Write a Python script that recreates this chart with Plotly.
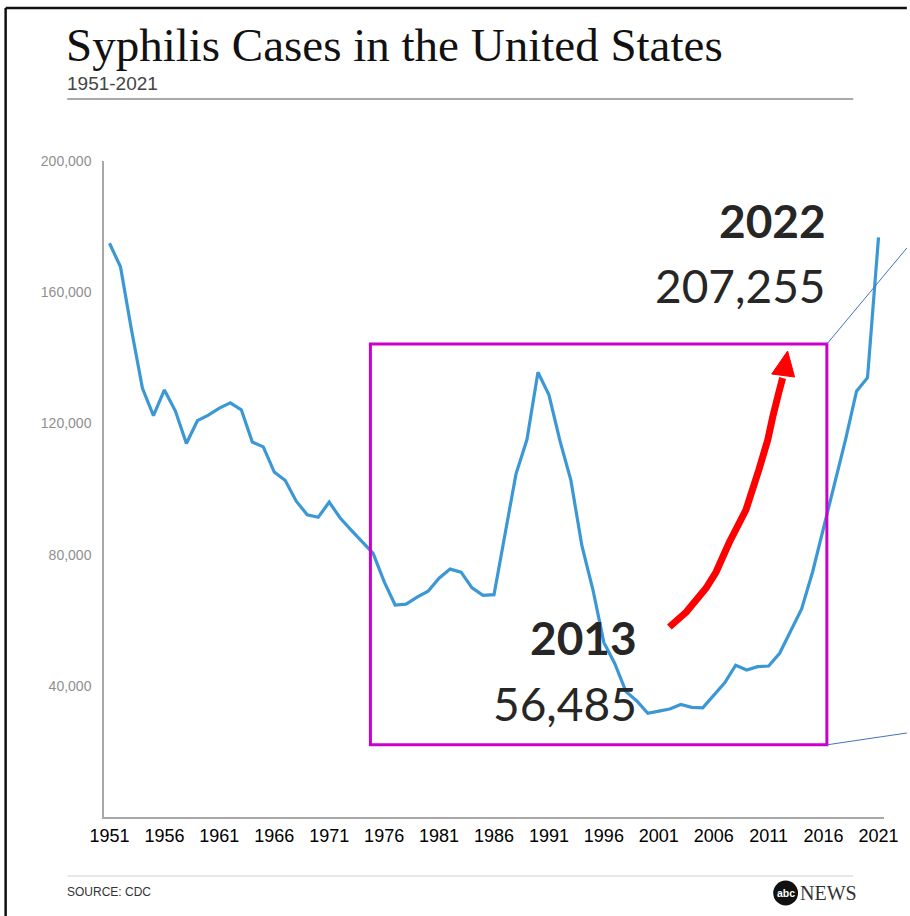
import plotly.graph_objects as go

# ---- data -------------------------------------------------------------
years = list(range(1951, 2022))
cases = [
    174924, 167762, 148573, 130697, 122392, 130201, 123758, 113884, 120824, 122538,
    124658, 126245, 124137, 114325, 112842, 105159, 102581, 96271, 92162, 91382,
    95997, 91149, 87469, 83771, 80356, 71761, 64621, 64875, 67049, 68832,
    72799, 75579, 74637, 69872, 67563, 67779, 86545, 104546, 115089, 135590,
    128719, 114730, 102612, 82713, 69359, 53240, 46716, 38289, 35386, 31618,
    32284, 32919, 34289, 33423, 33288, 36959, 40925, 46292, 44828, 45844,
    46042, 49915, 56485, 63453, 74707, 88042, 101584, 115064, 129813, 133945,
    176713,
]
x_tick_years = list(range(1951, 2022, 5))
y_tick_values = [40000, 80000, 120000, 160000, 200000]
y_tick_labels = [f"{v:,}" for v in y_tick_values]

low_year, low_cases = "2013", 56485
high_year, high_cases = "2022", 207255

# ---- page geometry ----------------------------------------------------
W, H = 910, 916
L, R, T, B = 104, 21, 161, 99
X_RANGE = [1950.5, 2021.5]
Y_RANGE = [0, 200000]
PW, PH = W - L - R, H - T - B


def fx(px):
    """page pixel x -> paper x"""
    return (px - L) / PW


def fy(py):
    """page pixel y (from top) -> paper y"""
    return (H - B - py) / PH


def data_to_paper_x(year):
    return (year - X_RANGE[0]) / (X_RANGE[1] - X_RANGE[0])


def data_to_paper_y(v):
    return (v - Y_RANGE[0]) / (Y_RANGE[1] - Y_RANGE[0])


fig = go.Figure()
fig.add_trace(go.Scatter(
    x=years, y=cases, mode="lines",
    line=dict(color="#3b98d5", width=3.2),
    hoverinfo="x+y", showlegend=False,
))

shapes = []
annotations = []

# highlighted window (years / case counts)
box_x0, box_x1 = 1974.75, 2016.3
box_y0, box_y1 = 22000, 144200
shapes.append(dict(type="rect", xref="x", yref="y",
                   x0=box_x0, x1=box_x1, y0=box_y0, y1=box_y1,
                   line=dict(color="#cc00cc", width=3), fillcolor="rgba(0,0,0,0)",
                   layer="above"))

# callout lines from the window corners to the page edge
bx = data_to_paper_x(box_x1)
shapes.append(dict(type="line", xref="paper", yref="paper",
                   x0=bx, y0=data_to_paper_y(box_y1), x1=fx(912), y1=fy(248),
                   line=dict(color="#4472c4", width=1)))
shapes.append(dict(type="line", xref="paper", yref="paper",
                   x0=bx, y0=data_to_paper_y(box_y0), x1=fx(912), y1=fy(733),
                   line=dict(color="#4472c4", width=1)))

# curved red arrow
arrow_pts = [(673, 627), (690, 612), (710, 588), (720, 572), (733, 543),
             (750, 510), (763, 470), (772, 440), (777, 417), (783, 393), (787, 378)]
path = "M " + " L ".join(f"{fx(a):.5f},{fy(b):.5f}" for a, b in arrow_pts)
shapes.append(dict(type="path", xref="paper", yref="paper", path=path,
                   line=dict(color="#ff0000", width=7)))
head = [(776, 374), (792, 351), (799, 377)]
head_path = "M " + " L ".join(f"{fx(a):.5f},{fy(b):.5f}" for a, b in head) + " Z"
shapes.append(dict(type="path", xref="paper", yref="paper", path=head_path,
                   line=dict(color="#ff0000", width=1), fillcolor="#ff0000"))

# page frame (left and top edges)
shapes.append(dict(type="line", xref="paper", yref="paper",
                   x0=fx(5), y0=fy(8), x1=fx(5), y1=fy(916),
                   line=dict(color="#111", width=2.5)))
shapes.append(dict(type="line", xref="paper", yref="paper",
                   x0=fx(5), y0=fy(8), x1=fx(912), y1=fy(8),
                   line=dict(color="#111", width=2.5)))

# header / footer rules
shapes.append(dict(type="line", xref="paper", yref="paper",
                   x0=fx(67), y0=fy(99), x1=fx(858), y1=fy(99),
                   line=dict(color="#555", width=1)))
shapes.append(dict(type="line", xref="paper", yref="paper",
                   x0=fx(67), y0=fy(876), x1=fx(858), y1=fy(876),
                   line=dict(color="#cfcfcf", width=1)))

# logo circle
shapes.append(dict(type="circle", xref="paper", yref="paper",
                   x0=fx(777.5), x1=fx(802.5), y0=fy(880.5), y1=fy(905.5),
                   line=dict(color="#111", width=0), fillcolor="#111"))


def text(x, y, s, size, family, color="#222", xanchor="left", weight="normal"):
    annotations.append(dict(
        xref="paper", yref="paper", x=fx(x), y=fy(y), text=s, showarrow=False,
        xanchor=xanchor, yanchor="middle",
        font=dict(size=size, family=family, color=color, weight=weight),
    ))


SERIF = "Liberation Serif, Times New Roman, serif"
SANS = "Liberation Sans, Arial, sans-serif"
CALLOUT = "Lato, Open Sans, sans-serif"

text(64, 45, "Syphilis Cases in the United States", 47, SERIF, "#111")
text(65, 84, "1951-2021", 19, SANS, "#444")
text(65, 892, "SOURCE: CDC", 12, SANS, "#333")
text(790, 893, "<b>abc</b>", 10.5, SANS, "#fff", xanchor="center")
text(802, 893, "NEWS", 20, SERIF, "#333")

text(833, 221, f"<b>{high_year}</b>", 46, CALLOUT, "#262626", xanchor="right")
text(833, 285, f"{high_cases:,}", 46, CALLOUT, "#262626", xanchor="right")
text(642, 637, f"<b>{low_year}</b>", 46, CALLOUT, "#262626", xanchor="right")
text(642, 703, f"{low_cases:,}", 46, CALLOUT, "#262626", xanchor="right")

fig.update_layout(
    width=W, height=H,
    margin=dict(l=L, r=R, t=T, b=B, pad=0),
    paper_bgcolor="white", plot_bgcolor="white",
    shapes=shapes, annotations=annotations,
    showlegend=False,
    xaxis=dict(
        range=X_RANGE, tickmode="array", tickvals=x_tick_years,
        ticktext=[str(y) for y in x_tick_years],
        showgrid=False, zeroline=False, showline=True,
        linecolor="#a8a8a8", linewidth=1.5, ticks="",
        ticklabelstandoff=2,
        tickfont=dict(size=18, family=SANS, color="#000"),
    ),
    yaxis=dict(
        range=Y_RANGE, tickmode="array", tickvals=y_tick_values,
        ticktext=y_tick_labels,
        showgrid=False, zeroline=False, showline=True,
        linecolor="#a8a8a8", linewidth=1.5, ticks="",
        ticklabelstandoff=8,
        tickfont=dict(size=14, family=SANS, color="#8f8f8f"),
    ),
)

fig.write_html("out.html")
